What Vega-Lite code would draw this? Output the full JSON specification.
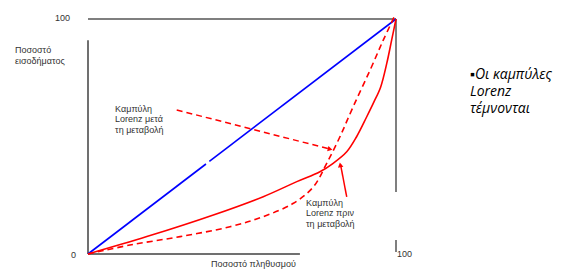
{
  "$schema": "https://vega.github.io/schema/vega-lite/v6.json",
  "width": 308,
  "height": 235,
  "autosize": {"type": "none"},
  "padding": {"left": 88, "top": 19, "right": 186, "bottom": 22},
  "background": "white",
  "config": {"view": {"stroke": null}},
  "datasets": {
    "frame": [
      {"part": "top", "x1": 0, "y1": 100, "x2": 100, "y2": 100},
      {"part": "right", "x1": 100, "y1": 100, "x2": 100, "y2": 26.4},
      {"part": "rightlow", "x1": 100, "y1": 6, "x2": 100, "y2": 0.8}
    ],
    "frameDark": [
      {"part": "left", "x1": 0, "y1": 91, "x2": 0, "y2": 0},
      {"part": "bottom", "x1": 0, "y1": 0, "x2": 68.8, "y2": 0}
    ],
    "equality": [
      {"x1": 0, "y1": 0, "x2": 38.3, "y2": 38.3},
      {"x1": 39.4, "y1": 39.4, "x2": 100, "y2": 100}
    ],
    "curves": [
      {"series": "before", "X": 0, "Y": 0},
      {"series": "before", "X": 19.1, "Y": 7.4},
      {"series": "before", "X": 40.7, "Y": 16.6},
      {"series": "before", "X": 56.9, "Y": 24.4},
      {"series": "before", "X": 67.8, "Y": 30.8},
      {"series": "before", "X": 75.3, "Y": 35.0},
      {"series": "before", "X": 79.6, "Y": 38.6},
      {"series": "before", "X": 84.0, "Y": 43.5},
      {"series": "before", "X": 87.2, "Y": 49.9},
      {"series": "before", "X": 90.5, "Y": 58.4},
      {"series": "before", "X": 92.8, "Y": 64.6},
      {"series": "before", "X": 95.0, "Y": 71.0},
      {"series": "before", "X": 97.0, "Y": 81.1},
      {"series": "before", "X": 98.6, "Y": 91.1},
      {"series": "before", "X": 100, "Y": 100},
      {"series": "after", "X": 0, "Y": 0},
      {"series": "after", "X": 13.6, "Y": 3.8},
      {"series": "after", "X": 29.9, "Y": 7.4},
      {"series": "after", "X": 46.1, "Y": 11.6},
      {"series": "after", "X": 56.9, "Y": 15.9},
      {"series": "after", "X": 66.7, "Y": 21.6},
      {"series": "after", "X": 73.2, "Y": 28.6},
      {"series": "after", "X": 77.5, "Y": 38.6},
      {"series": "after", "X": 81.8, "Y": 49.9},
      {"series": "after", "X": 86.1, "Y": 62.7},
      {"series": "after", "X": 91.6, "Y": 78.3},
      {"series": "after", "X": 95.9, "Y": 91.1},
      {"series": "after", "X": 99.7, "Y": 101.7}
    ],
    "arrowAfter": [{"x1": 28.8, "y1": 61.3, "x2": 79.0, "y2": 44.5}],
    "arrowBefore": [{"x1": 84.0, "y1": 24.3, "x2": 82.0, "y2": 38.0}],
    "headAfter": [{"X": 78.6, "Y": 44.6}],
    "headBefore": [{"X": 81.9, "Y": 37.9}],
    "textLeft": [
      {"X": -23.7, "Y": 85.5, "label": "Ποσοστό\nεισοδήματος"},
      {"X": 8.8, "Y": 60.6, "label": "Καμπύλη\nLorenz μετά\nτη μεταβολή"},
      {"X": 70.8, "Y": 20.6, "label": "Καμπύλη\nLorenz πριν\nτη μεταβολή"},
      {"X": 100.3, "Y": -1.1, "label": "100"}
    ],
    "textRight": [
      {"X": -5.8, "Y": 99.1, "label": "100"},
      {"X": -3.9, "Y": -1.7, "label": "0"}
    ],
    "textCenter": [
      {"X": 53.7, "Y": -5.5, "label": "Ποσοστό πληθυσμού"}
    ],
    "note": [
      {"X": 124.0, "Y": 74.5, "label": "▪Οι καμπύλες\nLorenz\nτέμνονται"}
    ]
  },
  "layer": [
    {
      "data": {"name": "frame"},
      "mark": {"type": "rule", "color": "#7f7f7f", "strokeWidth": 2},
      "encoding": {
        "x": {"field": "x1", "type": "quantitative", "scale": {"domain": [0, 100], "nice": false, "zero": false}, "axis": null},
        "y": {"field": "y1", "type": "quantitative", "scale": {"domain": [0, 100], "nice": false, "zero": false}, "axis": null},
        "x2": {"field": "x2"},
        "y2": {"field": "y2"}
      }
    },
    {
      "data": {"name": "frameDark"},
      "mark": {"type": "rule", "color": "#404040", "strokeWidth": 1.5},
      "encoding": {
        "x": {"field": "x1", "type": "quantitative"},
        "y": {"field": "y1", "type": "quantitative"},
        "x2": {"field": "x2"},
        "y2": {"field": "y2"}
      }
    },
    {
      "data": {"name": "equality"},
      "mark": {"type": "rule", "color": "#0000ff", "strokeWidth": 1.6},
      "encoding": {
        "x": {"field": "x1", "type": "quantitative"},
        "y": {"field": "y1", "type": "quantitative"},
        "x2": {"field": "x2"},
        "y2": {"field": "y2"}
      }
    },
    {
      "data": {"name": "curves"},
      "transform": [{"filter": "datum.series === 'before'"}],
      "mark": {"type": "line", "color": "#ff0000", "strokeWidth": 1.6, "interpolate": "catmull-rom"},
      "encoding": {
        "x": {"field": "X", "type": "quantitative"},
        "y": {"field": "Y", "type": "quantitative"}
      }
    },
    {
      "data": {"name": "curves"},
      "transform": [{"filter": "datum.series === 'after'"}],
      "mark": {"type": "line", "color": "#ff0000", "strokeWidth": 1.6, "strokeDash": [6, 4], "interpolate": "catmull-rom"},
      "encoding": {
        "x": {"field": "X", "type": "quantitative"},
        "y": {"field": "Y", "type": "quantitative"}
      }
    },
    {
      "data": {"name": "arrowAfter"},
      "mark": {"type": "rule", "color": "#ff0000", "strokeWidth": 1.5, "strokeDash": [6, 4]},
      "encoding": {
        "x": {"field": "x1", "type": "quantitative"},
        "y": {"field": "y1", "type": "quantitative"},
        "x2": {"field": "x2"},
        "y2": {"field": "y2"}
      }
    },
    {
      "data": {"name": "arrowBefore"},
      "mark": {"type": "rule", "color": "#ff0000", "strokeWidth": 1.5},
      "encoding": {
        "x": {"field": "x1", "type": "quantitative"},
        "y": {"field": "y1", "type": "quantitative"},
        "x2": {"field": "x2"},
        "y2": {"field": "y2"}
      }
    },
    {
      "data": {"name": "headAfter"},
      "mark": {"type": "point", "shape": "triangle-right", "angle": 14, "filled": true, "color": "#ff0000", "size": 30, "opacity": 1},
      "encoding": {
        "x": {"field": "X", "type": "quantitative"},
        "y": {"field": "Y", "type": "quantitative"}
      }
    },
    {
      "data": {"name": "headBefore"},
      "mark": {"type": "point", "shape": "triangle-up", "angle": -10, "filled": true, "color": "#ff0000", "size": 30, "opacity": 1},
      "encoding": {
        "x": {"field": "X", "type": "quantitative"},
        "y": {"field": "Y", "type": "quantitative"}
      }
    },
    {
      "data": {"name": "textLeft"},
      "mark": {"type": "text", "align": "left", "baseline": "alphabetic", "font": "Liberation Sans", "fontSize": 9, "lineHeight": 10.5, "lineBreak": "\n", "color": "#333333"},
      "encoding": {
        "x": {"field": "X", "type": "quantitative"},
        "y": {"field": "Y", "type": "quantitative"},
        "text": {"field": "label", "type": "nominal"}
      }
    },
    {
      "data": {"name": "textRight"},
      "mark": {"type": "text", "align": "right", "baseline": "alphabetic", "font": "Liberation Sans", "fontSize": 9, "color": "#333333"},
      "encoding": {
        "x": {"field": "X", "type": "quantitative"},
        "y": {"field": "Y", "type": "quantitative"},
        "text": {"field": "label", "type": "nominal"}
      }
    },
    {
      "data": {"name": "textCenter"},
      "mark": {"type": "text", "align": "center", "baseline": "alphabetic", "font": "Liberation Sans", "fontSize": 9, "color": "#333333"},
      "encoding": {
        "x": {"field": "X", "type": "quantitative"},
        "y": {"field": "Y", "type": "quantitative"},
        "text": {"field": "label", "type": "nominal"}
      }
    },
    {
      "data": {"name": "note"},
      "mark": {"type": "text", "align": "left", "baseline": "alphabetic", "font": "Open Sans", "fontStyle": "italic", "fontSize": 14, "lineHeight": 17, "lineBreak": "\n", "color": "#000000"},
      "encoding": {
        "x": {"field": "X", "type": "quantitative"},
        "y": {"field": "Y", "type": "quantitative"},
        "text": {"field": "label", "type": "nominal"}
      }
    }
  ]
}
